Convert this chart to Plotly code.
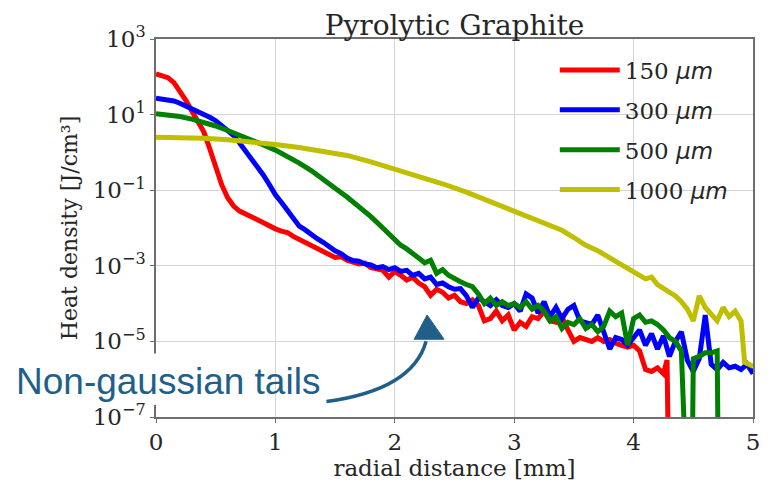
import plotly.graph_objects as go

# ---------------- data ----------------
red_x = [0.00, 0.05, 0.10, 0.15, 0.20, 0.25, 0.30, 0.35, 0.40, 0.45, 0.50, 0.55, 0.60, 0.65, 0.70,
         0.75, 0.80, 0.85, 0.90, 0.95, 1.00, 1.05, 1.10, 1.15, 1.20, 1.25, 1.30, 1.35, 1.40, 1.45,
         1.50, 1.55, 1.60, 1.65, 1.70, 1.75, 1.80, 1.85, 1.90, 1.95, 2.00, 2.05, 2.10, 2.15, 2.20,
         2.25, 2.30, 2.35, 2.40, 2.45, 2.50, 2.55, 2.60, 2.65, 2.70, 2.75, 2.80, 2.85, 2.90, 2.95,
         3.00, 3.05, 3.10, 3.15, 3.20, 3.25, 3.30, 3.35, 3.40, 3.45, 3.50, 3.55, 3.60, 3.65, 3.70,
         3.75, 3.80, 3.85, 3.90, 3.95, 4.00, 4.05, 4.10, 4.15, 4.20, 4.25, 4.28, 4.31]
red_y = [1.2e2, 1.1e2, 9.5e1, 7.0e1, 4.2e1, 2.4e1, 1.25e1, 7.0, 3.5, 1.25, 4.0e-1, 1.4e-1, 6.3e-2, 3.8e-2, 2.8e-2,
         2.4e-2, 2.0e-2, 1.66e-2, 1.38e-2, 1.12e-2, 9.5e-3, 8.3e-3, 7.6e-3, 6.0e-3, 5.0e-3, 4.4e-3, 3.5e-3, 3.0e-3, 2.4e-3, 2.0e-3,
         1.66e-3, 1.74e-3, 1.4e-3, 1.26e-3, 1.12e-3, 1.17e-3, 8.9e-4, 8.3e-4, 7.6e-4, 5.0e-4, 7.1e-4, 5.6e-4, 4.2e-4, 5.0e-4, 3.5e-4,
         2.8e-4, 1.66e-4, 2.4e-4, 2.0e-4, 1.4e-4, 1.66e-4, 1.12e-4, 1.0e-4, 1.26e-4, 8.9e-5, 3.5e-5, 4.0e-5, 6.3e-5, 3.5e-5, 5.0e-5,
         2.0e-5, 3.2e-5, 2.5e-5, 4.5e-5, 4.0e-5, 6.3e-5, 3.5e-5, 3.2e-5, 4.5e-5, 2.0e-5, 1.0e-5, 1.26e-5, 1.12e-5, 1.0e-5, 1.26e-5,
         1.0e-5, 1.12e-5, 8.9e-6, 7.9e-6, 7.1e-6, 7.9e-6, 5.6e-6, 1.8e-6, 1.6e-6, 2.0e-6, 1.4e-6, 3.2e-6, 0.0]

blue_x = [0.00, 0.05, 0.10, 0.15, 0.20, 0.25, 0.30, 0.35, 0.40, 0.45, 0.50, 0.55, 0.60, 0.65, 0.70,
          0.75, 0.80, 0.85, 0.90, 0.95, 1.00, 1.05, 1.10, 1.15, 1.20, 1.25, 1.30, 1.35, 1.40, 1.45,
          1.50, 1.55, 1.60, 1.65, 1.70, 1.75, 1.80, 1.85, 1.90, 1.95, 2.00, 2.05, 2.10, 2.15, 2.20,
          2.25, 2.30, 2.35, 2.40, 2.45, 2.50, 2.55, 2.60, 2.65, 2.70, 2.75, 2.80, 2.85, 2.90, 2.95,
          3.00, 3.05, 3.10, 3.15, 3.20, 3.25, 3.30, 3.35, 3.40, 3.45, 3.50, 3.55, 3.60, 3.65, 3.70,
          3.75, 3.80, 3.85, 3.90, 3.95, 4.00, 4.05, 4.10, 4.15, 4.20, 4.25, 4.30, 4.35, 4.40, 4.45,
          4.50, 4.55, 4.60, 4.65, 4.70, 4.75, 4.80, 4.85, 4.90, 4.95, 5.00]
blue_y = [2.7e1, 2.6e1, 2.5e1, 2.3e1, 2.0e1, 1.7e1, 1.48e1, 1.26e1, 1.05e1, 8.5, 6.9, 5.0, 3.8, 2.8, 1.78,
          1.12, 6.8e-1, 4.2e-1, 2.5e-1, 1.4e-1, 7.6e-2, 4.8e-2, 3.0e-2, 1.78e-2, 1.12e-2, 8.9e-3, 6.6e-3, 5.2e-3, 4.2e-3, 3.2e-3,
          2.5e-3, 2.1e-3, 1.6e-3, 1.38e-3, 1.32e-3, 1.12e-3, 1.05e-3, 8.9e-4, 9.5e-4, 7.9e-4, 8.9e-4, 7.1e-4, 7.6e-4, 5.6e-4, 6.3e-4,
          4.5e-4, 5.0e-4, 3.2e-4, 3.5e-4, 2.8e-4, 2.4e-4, 2.5e-4, 1.6e-4, 7.9e-5, 1.4e-4, 1.12e-4, 8.9e-5, 1.26e-4, 8.9e-5, 7.9e-5,
          1.0e-4, 6.3e-5, 1.8e-4, 1.4e-4, 5.6e-5, 1.12e-4, 4.5e-5, 7.9e-5, 4.0e-5, 7.1e-5, 8.9e-5, 3.5e-5, 3.2e-5, 2.8e-5, 5.0e-5,
          1.8e-5, 6.3e-6, 1.26e-5, 1.12e-5, 7.9e-6, 1.26e-5, 2.0e-5, 7.9e-6, 1.6e-5, 6.3e-6, 1.4e-5, 4.0e-6, 1.0e-5, 1.8e-5, 3.2e-6,
          1.6e-6, 3.5e-6, 5.0e-5, 2.5e-6, 1.8e-6, 2.8e-6, 2.0e-6, 2.2e-6, 1.8e-6, 2.5e-6, 1.4e-6]

green_x = [0.00, 0.10, 0.20, 0.30, 0.40, 0.50, 0.60, 0.70, 0.80, 0.90, 1.00, 1.10, 1.20, 1.30, 1.40,
           1.50, 1.60, 1.70, 1.80, 1.90, 2.00, 2.05, 2.10, 2.15, 2.20, 2.25, 2.30, 2.35, 2.40, 2.45,
           2.50, 2.55, 2.60, 2.65, 2.70, 2.75, 2.80, 2.85, 2.90, 2.95, 3.00, 3.05, 3.10, 3.15, 3.20,
           3.25, 3.30, 3.35, 3.40, 3.45, 3.50, 3.55, 3.60, 3.65, 3.70, 3.75, 3.80, 3.85, 3.90, 3.95,
           4.00, 4.05, 4.10, 4.15, 4.20, 4.25, 4.30, 4.35, 4.40, 4.42, 4.48, 4.50, 4.55, 4.60, 4.65,
           4.70, 4.72]
green_y = [1.05e1, 1.0e1, 8.9, 7.6, 6.3, 5.0, 3.8, 2.9, 2.1, 1.58, 1.15, 7.9e-1, 5.2e-1, 3.3e-1, 2.0e-1,
           1.12e-1, 6.6e-2, 3.8e-2, 2.0e-2, 1.0e-2, 5.2e-3, 3.5e-3, 2.8e-3, 2.2e-3, 1.6e-3, 1.2e-3, 1.4e-3, 6.3e-4, 7.9e-4, 5.6e-4,
           4.5e-4, 3.8e-4, 3.2e-4, 2.8e-4, 1.8e-4, 1.0e-4, 1.4e-4, 8.9e-5, 1.12e-4, 8.9e-5, 1.0e-4, 7.9e-5, 1.12e-4, 7.1e-5, 8.9e-5,
           6.3e-5, 3.5e-5, 4.5e-5, 2.2e-5, 3.2e-5, 2.8e-5, 4.0e-5, 2.2e-5, 2.8e-5, 1.8e-5, 2.5e-5, 6.3e-5, 4.5e-5, 5.6e-5, 7.9e-6,
           4.0e-5, 5.0e-5, 3.2e-5, 3.5e-5, 2.8e-5, 2.0e-5, 1.26e-5, 1.0e-5, 5.6e-6, 0.0, 0.0, 3.5e-6, 4.0e-6, 5.0e-6, 5.0e-6,
           5.6e-6, 0.0]

yellow_x = [0.00, 0.20, 0.40, 0.60, 0.80, 1.00, 1.20, 1.40, 1.60, 1.80, 2.00, 2.20, 2.40, 2.60, 2.80,
            3.00, 3.20, 3.40, 3.50, 3.60, 3.70, 3.80, 3.90, 3.95, 4.00, 4.05, 4.10, 4.15, 4.20, 4.25,
            4.30, 4.35, 4.40, 4.45, 4.50, 4.55, 4.60, 4.65, 4.70, 4.75, 4.80, 4.85, 4.90, 4.93, 5.00]
yellow_y = [2.5, 2.45, 2.35, 2.15, 1.9, 1.62, 1.35, 1.1, 8.3e-1, 5.6e-1, 3.6e-1, 2.4e-1, 1.48e-1, 8.9e-2, 4.9e-2,
            2.75e-2, 1.51e-2, 8.7e-3, 5.6e-3, 3.5e-3, 2.5e-3, 1.66e-3, 1.12e-3, 8.9e-4, 7.1e-4, 5.6e-4, 4.5e-4, 5.0e-4, 3.2e-4, 2.5e-4,
            2.0e-4, 1.6e-4, 1.12e-4, 7.1e-5, 3.5e-5, 1.6e-4, 7.9e-5, 5.0e-5, 3.5e-5, 7.9e-5, 4.5e-5, 6.3e-5, 3.5e-5, 2.8e-6, 2.2e-6]

MU = '<span style="font-family:DejaVu Sans"><i>μm</i></span>'
series_names = ["150 " + MU, "300 " + MU, "500 " + MU, "1000 " + MU]
series_colors = ["#ff0000", "#0000ff", "#008000", "#bfbf00"]

y_tick_vals = [1e-7, 1e-5, 1e-3, 1e-1, 1e1, 1e3]
y_tick_text = ["10<sup>−7</sup>", "10<sup>−5</sup>", "10<sup>−3</sup>", "10<sup>−1</sup>",
               "10<sup>1</sup>", "10<sup>3</sup>"]
x_tick_vals = [0, 1, 2, 3, 4, 5]

# ---------------- figure ----------------
SERIF = "DejaVu Serif, serif"
TXT = "#262626"
FLOOR = 1e-12  # zero values on a log axis drop off the bottom, as matplotlib clips them


def floor_zero(vals):
    return [v if v > 0 else FLOOR for v in vals]


fig = go.Figure()
all_x = [red_x, blue_x, green_x, yellow_x]
all_y = [red_y, blue_y, green_y, yellow_y]
for i, (xs, ys) in enumerate(zip(all_x, all_y)):
    fig.add_trace(go.Scatter(
        x=xs, y=floor_zero(ys), mode="lines", name=series_names[i],
        legendgroup=f"g{i}",
        line=dict(color=series_colors[i], width=5),
    ))

axis_common = dict(
    showline=True, linecolor="#6e6e6e", linewidth=1.5, mirror=True,
    showgrid=True, gridcolor="#d4d4d4", gridwidth=1.2,
    ticks="outside", ticklen=4, tickcolor="#6e6e6e",
    tickfont=dict(family=SERIF, size=23, color=TXT),
    zeroline=False,
)

fig.update_layout(
    width=772, height=486,
    margin=dict(l=156, r=17, t=39, b=58),
    paper_bgcolor="white", plot_bgcolor="white",
    title=dict(text="Pyrolytic Graphite", x=0.5, xref="paper", xanchor="center",
               y=1, yref="paper", yanchor="bottom", pad=dict(b=4),
               font=dict(family=SERIF, size=28, color=TXT)),
    xaxis=dict(range=[0, 5], tickvals=x_tick_vals,
               title=dict(text="radial distance [mm]", standoff=3,
                          font=dict(family=SERIF, size=23, color=TXT)),
               **axis_common),
    yaxis=dict(type="log", range=[-7, 3], tickvals=y_tick_vals, ticktext=y_tick_text,
               title=dict(text="Heat density [J/cm³]", standoff=9,
                          font=dict(family=SERIF, size=22, color=TXT)),
               **axis_common),
    legend=dict(x=0.668, y=0.975, xanchor="left", yanchor="top",
                bgcolor="rgba(0,0,0,0)", tracegroupgap=7, itemwidth=60,
                font=dict(family=SERIF, size=23, color=TXT)),
    showlegend=True,
)

# white patch hiding the left spine behind the callout text (as in the reference)
fig.add_shape(type="rect", xref="paper", yref="paper", layer="above",
              x0=-0.006, x1=0.006, y0=0.032, y1=0.168,
              fillcolor="white", line=dict(width=0))

fig.add_annotation(
    text="Non-gaussian tails", xref="paper", yref="paper", x=0.02, y=0.0935,
    xanchor="center", yanchor="middle", showarrow=False,
    font=dict(family="Liberation Sans, Arial, sans-serif", size=37, color="#215f8b"),
    bgcolor="rgba(0,0,0,0)", borderpad=0,
)

# curved arrow pointing at the tails
fig.add_shape(type="path", xref="paper", yref="paper",
              path="M 0.2855 0.041 Q 0.43 0.072 0.4524 0.2005",
              line=dict(color="#215f8b", width=3.5))
fig.add_shape(type="path", xref="paper", yref="paper",
              path="M 0.4541 0.2699 L 0.4324 0.2057 L 0.4825 0.2057 Z",
              fillcolor="#215f8b", line=dict(color="#215f8b", width=1))

fig.write_html("out.html")
